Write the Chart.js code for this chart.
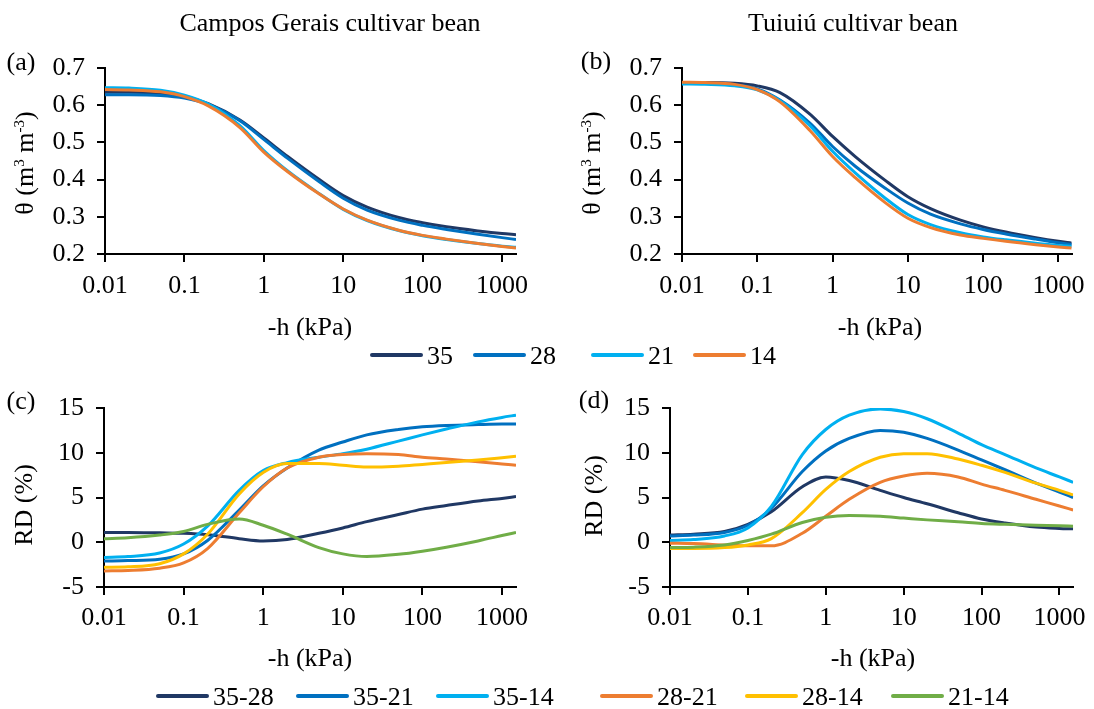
<!DOCTYPE html>
<html>
<head>
<meta charset="utf-8">
<script src="https://cdn.jsdelivr.net/npm/chart.js@4/dist/chart.umd.min.js"></script>
<style>
  body { margin: 0; background: #fff; }
  #wrap { position: relative; width: 1094px; height: 709px; overflow: hidden; font-family: "Liberation Serif", "Times New Roman", serif; color: #000; }
  canvas { position: absolute; }
  .t { position: absolute; white-space: nowrap; transform: translate(-50%, -50%); font-size: 26px; line-height: 1; }
  .rot { transform: translate(-50%, -50%) rotate(-90deg); }
  .lg { position: absolute; height: 4px; border-radius: 2px; transform: translateY(-50%); }
  .lt { position: absolute; white-space: nowrap; transform: translateY(-50%); font-size: 26px; line-height: 1; }
  sup { font-size: 15px; vertical-align: 9px; line-height: 0; }
</style>
</head>
<body>
<div id="wrap">
  <canvas id="ca" width="547" height="340" style="left:0;top:0"></canvas>
  <canvas id="cb" width="547" height="340" style="left:547px;top:0"></canvas>
  <canvas id="cc" width="547" height="300" style="left:0;top:360px"></canvas>
  <canvas id="cd" width="547" height="300" style="left:547px;top:360px"></canvas>

  <div class="t" style="left:330px;top:23px">Campos Gerais cultivar bean</div>
  <div class="t" style="left:853px;top:23px">Tuiuiú cultivar bean</div>
  <div class="t" style="left:21px;top:62px">(a)</div>
  <div class="t" style="left:596px;top:61px">(b)</div>
  <div class="t" style="left:21px;top:401px">(c)</div>
  <div class="t" style="left:594px;top:400px">(d)</div>

  <div class="t rot" style="left:25px;top:163px">θ (m<sup>3</sup> m<sup>-3</sup>)</div>
  <div class="t rot" style="left:592px;top:163px">θ (m<sup>3</sup> m<sup>-3</sup>)</div>
  <div class="t rot" style="left:24px;top:505px">RD (%)</div>
  <div class="t rot" style="left:594px;top:496px">RD (%)</div>

  <div class="t" style="left:310px;top:327px">-h (kPa)</div>
  <div class="t" style="left:880px;top:327px">-h (kPa)</div>
  <div class="t" style="left:310px;top:658px">-h (kPa)</div>
  <div class="t" style="left:873px;top:658px">-h (kPa)</div>

  <div id="leg1"></div>
  <div id="leg2"></div>
</div>

<script>
// pressão (kPa) usada em todas as curvas
const hVals = [0.01, 0.02, 0.05, 0.1, 0.2, 0.5, 1, 2, 5, 10, 20, 50, 100, 200, 500, 1000, 1500];
const xTicks = [0.01, 0.1, 1, 10, 100, 1000];

// (a) Campos Gerais - umidade
const thetaLabels = ['35', '28', '21', '14'];
const a35 = [0.635, 0.635, 0.632, 0.623, 0.604, 0.560, 0.512, 0.462, 0.400, 0.357, 0.326, 0.298, 0.284, 0.273, 0.262, 0.255, 0.252];
const a28 = [0.628, 0.628, 0.626, 0.619, 0.602, 0.558, 0.508, 0.457, 0.394, 0.350, 0.318, 0.291, 0.277, 0.266, 0.253, 0.244, 0.239];
const a21 = [0.647, 0.646, 0.640, 0.627, 0.603, 0.545, 0.478, 0.423, 0.362, 0.320, 0.290, 0.263, 0.249, 0.239, 0.228, 0.221, 0.218];
const a14 = [0.642, 0.641, 0.636, 0.623, 0.598, 0.540, 0.474, 0.421, 0.361, 0.321, 0.291, 0.264, 0.250, 0.240, 0.228, 0.220, 0.216];

// (b) Tuiuiú - umidade
const b35 = [0.661, 0.661, 0.659, 0.652, 0.634, 0.576, 0.516, 0.462, 0.398, 0.354, 0.322, 0.291, 0.273, 0.259, 0.244, 0.234, 0.229];
const b28 = [0.660, 0.659, 0.655, 0.644, 0.614, 0.552, 0.489, 0.436, 0.377, 0.337, 0.307, 0.281, 0.266, 0.254, 0.240, 0.230, 0.225];
const b21 = [0.657, 0.656, 0.652, 0.641, 0.612, 0.545, 0.476, 0.418, 0.350, 0.306, 0.279, 0.257, 0.246, 0.238, 0.229, 0.223, 0.221];
const b14 = [0.662, 0.661, 0.656, 0.642, 0.609, 0.532, 0.462, 0.405, 0.338, 0.296, 0.271, 0.251, 0.242, 0.234, 0.225, 0.219, 0.216];

// (c) Campos Gerais - diferença relativa (%)
const rdLabels = ['35-28', '35-21', '35-14', '28-21', '28-14', '21-14'];
const c3528 = [1.1, 1.1, 1.05, 1.0, 0.85, 0.4, 0.15, 0.3, 1.0, 1.6, 2.3, 3.1, 3.7, 4.1, 4.6, 4.9, 5.1];
const c3521 = [-2.1, -2.05, -1.9, -1.3, 0.2, 3.6, 6.3, 8.3, 10.3, 11.2, 12.0, 12.6, 12.9, 13.05, 13.15, 13.2, 13.2];
const c3514 = [-1.7, -1.6, -1.2, -0.2, 1.8, 5.8, 8.0, 8.9, 9.5, 9.9, 10.4, 11.3, 12.0, 12.65, 13.45, 13.95, 14.2];
const c2821 = [-3.2, -3.15, -2.9, -2.3, -0.7, 3.3, 6.2, 8.3, 9.5, 9.8, 9.9, 9.8, 9.5, 9.3, 9.0, 8.75, 8.6];
const c2814 = [-2.8, -2.75, -2.4, -1.3, 0.9, 5.4, 7.8, 8.8, 8.8, 8.6, 8.4, 8.5, 8.7, 8.9, 9.2, 9.45, 9.6];
const c2114 = [0.4, 0.5, 0.8, 1.2, 2.0, 2.6, 1.9, 0.9, -0.6, -1.3, -1.6, -1.35, -1.0, -0.55, 0.15, 0.75, 1.1];

// (d) Tuiuiú - diferença relativa (%)
const d3528 = [0.8, 0.9, 1.2, 2.0, 3.4, 6.2, 7.3, 6.9, 5.8, 5.0, 4.3, 3.3, 2.6, 2.15, 1.7, 1.55, 1.5];
const d3521 = [0.7, 0.8, 1.1, 1.9, 3.8, 7.9, 10.2, 11.6, 12.5, 12.3, 11.6, 10.3, 9.2, 8.1, 6.6, 5.6, 5.0];
const d3514 = [0.2, 0.3, 0.7, 1.6, 4.0, 9.8, 12.6, 14.2, 14.9, 14.6, 13.8, 12.2, 10.9, 9.8, 8.3, 7.3, 6.7];
const d2821 = [-0.1, -0.15, -0.3, -0.4, -0.4, 1.0, 2.9, 4.8, 6.7, 7.4, 7.7, 7.3, 6.5, 5.8, 4.8, 4.05, 3.6];
const d2814 = [-0.7, -0.7, -0.6, -0.3, 0.4, 3.3, 5.9, 7.9, 9.5, 9.9, 9.9, 9.3, 8.6, 7.8, 6.6, 5.8, 5.3];
const d2114 = [-0.6, -0.55, -0.3, 0.2, 0.9, 2.2, 2.8, 3.0, 2.9, 2.7, 2.5, 2.3, 2.1, 2.0, 1.9, 1.85, 1.8];

const thetaColors = ['#203864', '#0070C0', '#00B0F0', '#ED7D31'];
const rdColors = ['#203864', '#0070C0', '#00B0F0', '#ED7D31', '#FFC000', '#70AD47'];

Chart.defaults.font.family = "'Liberation Serif', 'Times New Roman', serif";
const tickFont = { family: "'Liberation Serif', 'Times New Roman', serif", size: 26, lineHeight: 1.2 };

function makeChart(id, series, labels, colors, opt) {
  const n = series.length;
  const datasets = series.map((s, i) => ({
    label: labels[i],
    data: hVals.map((h, j) => ({ x: h, y: s[j] })),
    borderColor: colors[i],
    borderWidth: 3,
    pointRadius: 0,
    fill: false,
    cubicInterpolationMode: 'monotone',
    order: n - i // a última série fica por cima, como no Excel
  }));

  return new Chart(document.getElementById(id), {
    type: 'line',
    data: { datasets },
    options: {
      responsive: false,
      animation: false,
      events: [],
      layout: { padding: { left: 0, top: opt.top, right: opt.right, bottom: 0 } },
      plugins: { legend: { display: false }, tooltip: { enabled: false } },
      scales: {
        x: {
          type: 'logarithmic',
          min: 0.01,
          max: 1500,
          afterBuildTicks: s => { s.ticks = xTicks.map(v => ({ value: v })); },
          afterFit: s => { s.height = opt.xh; },
          ticks: { autoSkip: false, maxRotation: 0, color: '#000', font: tickFont, padding: opt.xpad, callback: v => String(v) },
          grid: { drawOnChartArea: false, drawTicks: true, tickLength: 8, color: '#000', lineWidth: 2 },
          border: { color: '#000', width: 2 }
        },
        y: {
          min: opt.ymin,
          max: opt.ymax,
          afterFit: s => { s.width = opt.yw; },
          ticks: { stepSize: opt.step, color: '#000', font: tickFont, padding: 12, callback: v => opt.fmt(v) },
          grid: { drawOnChartArea: false, drawTicks: true, tickLength: 8, color: '#000', lineWidth: 2 },
          border: { color: '#000', width: 2 }
        }
      }
    }
  });
}

const thetaOpt = { ymin: 0.2, ymax: 0.7, step: 0.1, xpad: 9, fmt: v => v.toFixed(1) };
const rdOpt = { ymin: -5, ymax: 15, step: 5, xpad: 8, fmt: v => String(Math.round(v)) };

makeChart('ca', [a35, a28, a21, a14], thetaLabels, thetaColors, Object.assign({ top: 68, right: 31, yw: 105, xh: 86 }, thetaOpt));
makeChart('cb', [b35, b28, b21, b14], thetaLabels, thetaColors, Object.assign({ top: 68, right: 16, yw: 135, xh: 86 }, thetaOpt));
makeChart('cc', [c3528, c3521, c3514, c2821, c2814, c2114], rdLabels, rdColors, Object.assign({ top: 48, right: 31, yw: 104, xh: 73 }, rdOpt));
makeChart('cd', [d3528, d3521, d3514, d2821, d2814, d2114], rdLabels, rdColors, Object.assign({ top: 48, right: 17, yw: 123, xh: 73 }, rdOpt));

// legendas em HTML, posições
function buildLegend(elId, labels, colors, lineX, y) {
  const el = document.getElementById(elId);
  labels.forEach((lab, i) => {
    const ln = document.createElement('div');
    ln.className = 'lg';
    ln.style.left = lineX[i] + 'px';
    ln.style.width = '53px';
    ln.style.top = y + 'px';
    ln.style.background = colors[i];
    el.appendChild(ln);
    const tx = document.createElement('div');
    tx.className = 'lt';
    tx.style.left = (lineX[i] + 57) + 'px';
    tx.style.top = (y + 1) + 'px';
    tx.textContent = lab;
    el.appendChild(tx);
  });
}
buildLegend('leg1', thetaLabels, thetaColors, [370, 473, 591, 693], 355);
buildLegend('leg2', rdLabels, rdColors, [156, 296, 436, 600, 745, 891], 696);
</script>
</body>
</html>
